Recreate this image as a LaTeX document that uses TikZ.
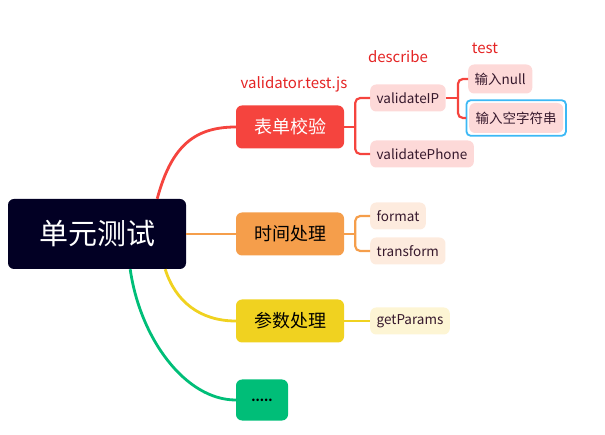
\documentclass[tikz,border=0pt]{standalone}
\usepackage{fontspec}
\setmainfont{Noto Sans CJK SC}
\definecolor{rootnavy}{RGB}{2,0,36}
\definecolor{formred}{RGB}{245,68,62}
\definecolor{timeorange}{RGB}{245,158,75}
\definecolor{paramyellow}{RGB}{240,210,32}
\definecolor{moregreen}{RGB}{0,190,120}
\definecolor{formpink}{RGB}{253,217,216}
\definecolor{timepeach}{RGB}{253,235,222}
\definecolor{paramcream}{RGB}{253,245,212}
\definecolor{leaftext}{RGB}{55,25,45}
\definecolor{markblue}{RGB}{60,184,245}
\definecolor{notered}{RGB}{228,36,36}
\tikzset{
  rootbox/.style={fill=rootnavy, text=white, rounded corners=6, minimum width=178, minimum height=70, font=\fontsize{29}{30}\selectfont},
  topicbox/.style={rounded corners=6, minimum width=108, minimum height=43, font=\fontsize{18}{20}\selectfont},
  leafbox/.style={anchor=west, rounded corners=6, minimum height=27, inner xsep=6.5, text=leaftext, font=\fontsize{13.5}{14}\selectfont},
  branch/.style={line width=2.8},
  twig/.style={line width=2.2, rounded corners=5},
  note/.style={text=notered, font=\fontsize{15}{16}\selectfont}
}
\begin{document}
\begin{tikzpicture}[x=1pt, y=-1pt]
    \useasboundingbox (0,0) rectangle (605,435);
    \node[rootbox] (root) at (97,234) {单元测试};
    \node[topicbox, fill=formred, text=white] (form) at (290,127) {表单校验};
    \node[topicbox, fill=timeorange] (time) at (290,234) {时间处理};
    \node[topicbox, fill=paramyellow] (param) at (290,321) {参数处理};
    \node[topicbox, fill=moregreen, minimum width=52, minimum height=41, font=\bfseries\fontsize{12}{12}\selectfont] (more) at (262,400) {.....};
    \node[note] (filelabel) at (294,84) {validator.test.js};
    \node[note] (desclabel) at (398,57) {describe};
    \node[note] (testlabel) at (485,48) {test};
    \node[leafbox, fill=formpink] (vip) at (370,98) {validateIP};
    \node[leafbox, fill=formpink] (vphone) at (370,154) {validatePhone};
    \node[leafbox, fill=formpink, minimum height=29] (inull) at (468,79) {输入null};
    \node[leafbox, fill=formpink, minimum height=30] (iempty) at (469,118) {输入空字符串};
    \node[leafbox, fill=timepeach] (fmt) at (370,216) {format};
    \node[leafbox, fill=timepeach] (trans) at (370,251) {transform};
    \node[leafbox, fill=paramcream] (getp) at (370,321) {getParams};
    \draw[markblue, line width=1.8, rounded corners=4] ([xshift=-2.5, yshift=-2.5]iempty.south west) rectangle ([xshift=2.5, yshift=2.5]iempty.north east);
    \draw[branch, formred] ([xshift=-29]root.north east) .. controls +(14,-52) and +(-42,0) .. (form.west);
    \draw[branch, timeorange] (root.east) -- (time.west);
    \draw[branch, paramyellow] ([xshift=-21]root.south east) .. controls +(10,32) and +(-36,0) .. (param.west);
    \draw[branch, moregreen] ([xshift=-56]root.south east) .. controls +(10,70) and +(-50,0) .. (more.west);
    \draw[twig, formred] (form.east) -- ++(11,0) coordinate (formfork);
    \draw[twig, formred] (formfork) |- (vip.west);
    \draw[twig, formred] (formfork) |- (vphone.west);
    \draw[twig, formred] (vip.east) -- ++(12,0) coordinate (ipfork);
    \draw[twig, formred] (ipfork) |- (inull.west);
    \draw[twig, formred] (ipfork) |- ([xshift=-3]iempty.west);
    \draw[twig, timeorange] (time.east) -- ++(11,0) coordinate (timefork);
    \draw[twig, timeorange] (timefork) |- (fmt.west);
    \draw[twig, timeorange] (timefork) |- (trans.west);
    \draw[twig, paramyellow] (param.east) -- (getp.west);
\end{tikzpicture}
\end{document}
